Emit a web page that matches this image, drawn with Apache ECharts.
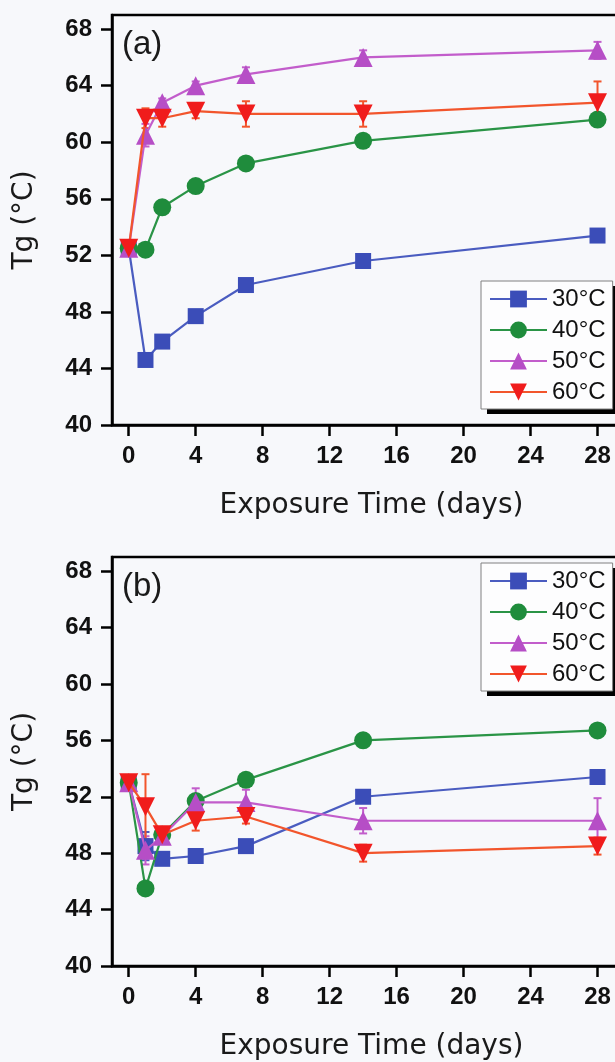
<!DOCTYPE html>
<html><head><meta charset="utf-8">
<script src="https://cdn.jsdelivr.net/npm/echarts@6/dist/echarts.min.js"></script>
<style>html,body{margin:0;padding:0;background:#f7f8fb;overflow:hidden;width:615px;height:1062px;} #c{width:640px;height:1062px;}</style>
</head><body><div id="c"></div>
<script>
const seriesNames = ['30°C', '40°C', '50°C', '60°C'];
const xTicks = [0, 4, 8, 12, 16, 20, 24, 28];
const yTicks = [40, 44, 48, 52, 56, 60, 64, 68];
const days = [0, 1, 2, 4, 7, 14, 28];
// panel (a)
const a30 = [52.5, 44.6, 45.9, 47.7, 49.9, 51.6, 53.4];
const a40 = [52.5, 52.4, 55.4, 56.9, 58.5, 60.1, 61.6];
const a50 = [52.5, 60.5, 62.8, 64.0, 64.8, 66.0, 66.5];
const a60 = [52.5, 61.7, 61.7, 62.2, 62.0, 62.0, 62.8];
const a30err = [0, 0, 0, 0, 0, 0, 0];
const a40err = [0, 0, 0, 0, 0, 0, 0.4];
const a50err = [0, 0.8, 0.3, 0.3, 0.5, 0.5, 0.6];
const a60err = [0, 0.7, 0.6, 0.5, 0.9, 0.9, 1.5];
// panel (b)
const b30 = [53.0, 48.5, 47.6, 47.8, 48.5, 52.0, 53.4];
const b40 = [53.0, 45.5, 49.3, 51.7, 53.2, 56.0, 56.7];
const b50 = [53.0, 48.2, 49.2, 51.6, 51.6, 50.3, 50.3];
const b60 = [53.0, 51.3, 49.3, 50.3, 50.6, 48.0, 48.5];
const b30err = [0, 1.0, 0.4, 0, 0, 0, 0];
const b40err = [0, 0.4, 0.3, 0, 0, 0, 0];
const b50err = [0.4, 1.0, 0.4, 1.0, 0.9, 0.9, 1.6];
const b60err = [0.4, 2.3, 0.5, 0.7, 0.5, 0.6, 0.6];

const markerColors = ['#3b4db8', '#1f8c3c', '#b64ec6', '#f01c1c'];
const lineColors = ['#4a5cc0', '#2a9446', '#c25dcb', '#f2552c'];
const symbols = ['rect', 'circle', 'triangle', 'triangle'];
const symbolSizes = [16, 18, 19, 19];
const symbolRotates = [0, 0, 0, 180];

const panels = [
  { vals: [a30, a40, a50, a60], errs: [a30err, a40err, a50err, a60err] },
  { vals: [b30, b40, b50, b60], errs: [b30err, b40err, b50err, b60err] }
];

const tickFont = { fontFamily: 'Liberation Sans, Arial', fontWeight: 'bold', fontSize: 24, color: '#111' };
const nameFont = { fontFamily: 'DejaVu Sans', fontSize: 28, color: '#1a1a1a' };

function errRender(params, api) {
  const x = api.value(0), lo = api.value(1), hi = api.value(2);
  const p1 = api.coord([x, hi]);
  const p2 = api.coord([x, lo]);
  const w = 4;
  const style = { stroke: api.visual('color'), lineWidth: 2 };
  return { type: 'group', children: [
    { type: 'line', shape: { x1: p1[0], y1: p1[1], x2: p2[0], y2: p2[1] }, style: style },
    { type: 'line', shape: { x1: p1[0] - w, y1: p1[1], x2: p1[0] + w, y2: p1[1] }, style: style },
    { type: 'line', shape: { x1: p2[0] - w, y1: p2[1], x2: p2[0] + w, y2: p2[1] }, style: style }
  ]};
}

const grids = [], xAxes = [], yAxes = [], series = [], legends = [], titles = [], graphics = [];
const gridTops = [15, 557];
const panelLabels = ['(a)', '(b)'];
const legendTops = [281, 563];
const legendLeft = 481, legendW = 131, legendH = 128;

panels.forEach(function (p, gi) {
  grids.push({ left: 112, top: gridTops[gi], width: 519, height: 410, show: true,
    borderColor: '#000', borderWidth: 2.5, backgroundColor: 'transparent' });
  xAxes.push({ gridIndex: gi, type: 'value', min: -1, max: 30,
    name: 'Exposure Time (days)', nameLocation: 'middle', nameGap: 67, nameTextStyle: nameFont,
    axisLine: { show: true, onZero: false, lineStyle: { color: '#000', width: 2.5 } },
    axisTick: { show: true, inside: false, length: 11, customValues: xTicks, lineStyle: { color: '#000', width: 2.5 } },
    axisLabel: Object.assign({ margin: 19, customValues: xTicks }, tickFont),
    splitLine: { show: false } });
  yAxes.push({ gridIndex: gi, type: 'value', min: 40, max: 69,
    name: 'Tg (°C)', nameLocation: 'middle', nameGap: 73, nameTextStyle: nameFont,
    axisLine: { show: true, onZero: false, lineStyle: { color: '#000', width: 2.5 } },
    axisTick: { show: true, inside: false, length: 11, customValues: yTicks, lineStyle: { color: '#000', width: 2.5 } },
    axisLabel: Object.assign({ margin: 20, customValues: yTicks }, tickFont),
    splitLine: { show: false } });
  p.vals.forEach(function (vals, si) {
    const errData = [];
    p.errs[si].forEach(function (e, k) { if (e > 0) errData.push([days[k], vals[k] - e, vals[k] + e]); });
    series.push({ type: 'custom', name: seriesNames[si] + ' err', xAxisIndex: gi, yAxisIndex: gi,
      renderItem: errRender, data: errData, itemStyle: { color: lineColors[si] }, z: 1, silent: true });
  });
  p.vals.forEach(function (vals, si) {
    series.push({ type: 'line', name: seriesNames[si], xAxisIndex: gi, yAxisIndex: gi,
      data: days.map(function (d, k) { return [d, vals[k]]; }),
      symbol: symbols[si], symbolSize: symbolSizes[si], symbolRotate: symbolRotates[si],
      showAllSymbol: true, clip: false, z: 3 + si,
      lineStyle: { color: lineColors[si], width: 2.2 },
      itemStyle: { color: markerColors[si], borderWidth: 0 },
      emphasis: { disabled: true }, animation: false });
  });
  // legend drop shadow
  graphics.push({ type: 'rect', x: legendLeft + 6, y: legendTops[gi] + 5, z: 20,
    shape: { x: 0, y: 0, width: legendW, height: legendH }, style: { fill: '#000' }, silent: true });
  legends.push({ orient: 'vertical', left: legendLeft, top: legendTops[gi], data: seriesNames,
    itemWidth: 57, itemHeight: 21, itemGap: 7, padding: [6, 7, 5, 8], z: 30,
    backgroundColor: '#fdfdfe', borderColor: '#808080', borderWidth: 1,
    selectedMode: false,
    textStyle: { fontFamily: 'Liberation Sans, Arial', fontSize: 24, color: '#111', lineHeight: 24 } });
  titles.push({ text: panelLabels[gi], left: 122, top: gridTops[gi] + 13, padding: 0,
    textStyle: { fontFamily: 'Liberation Sans, Arial', fontSize: 33, fontWeight: 'normal', color: '#1a1a1a' } });
});

const chart = echarts.init(document.getElementById('c'), null, { renderer: 'canvas' });
chart.setOption({
  animation: false,
  backgroundColor: '#f7f8fb',
  title: titles,
  legend: legends,
  grid: grids,
  xAxis: xAxes,
  yAxis: yAxes,
  graphic: { elements: graphics },
  series: series
});
</script>
</body></html>
